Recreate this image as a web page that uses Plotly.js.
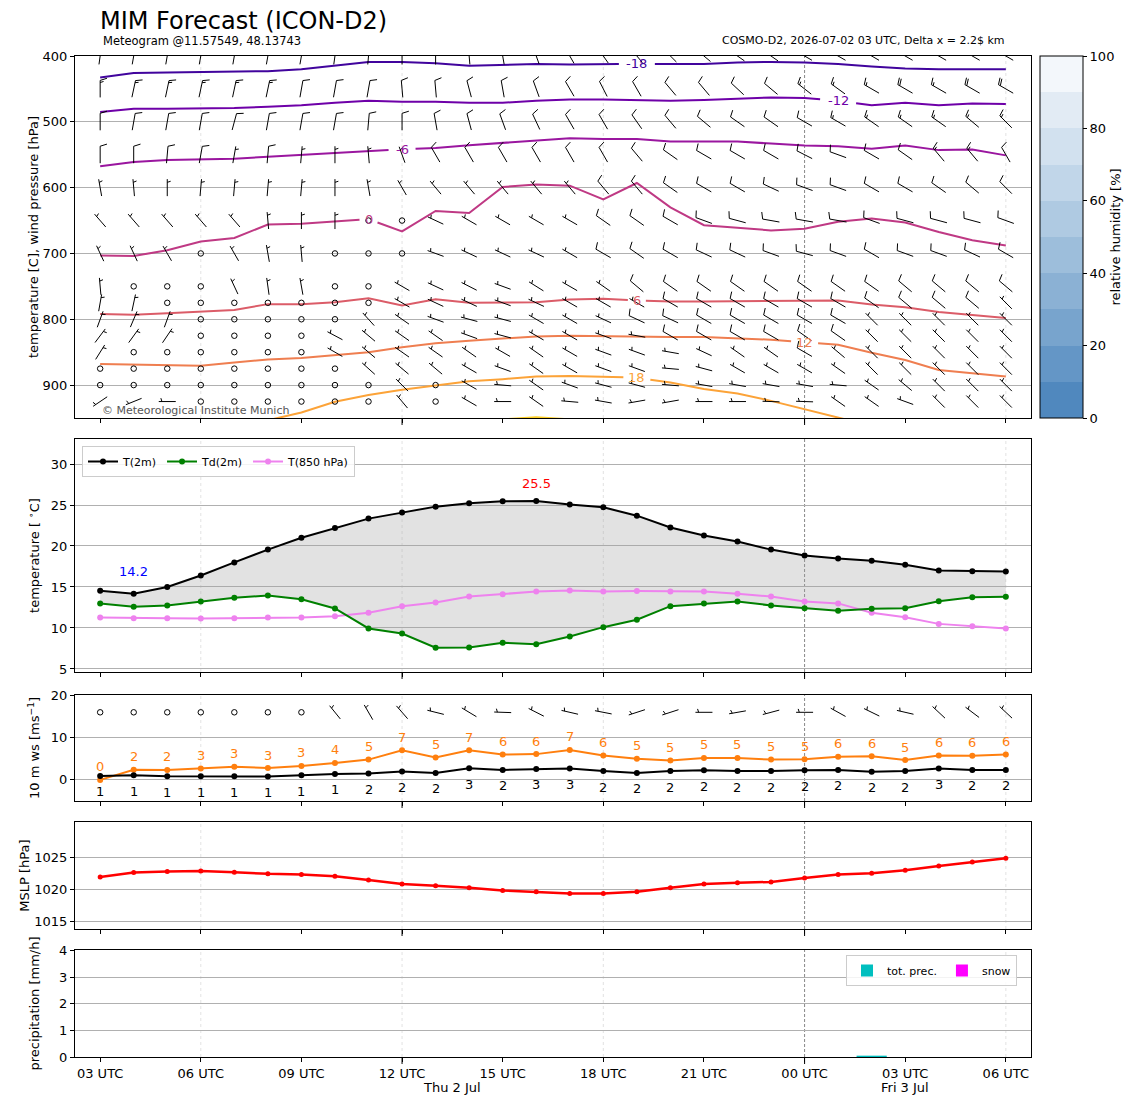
<!DOCTYPE html>
<html><head><meta charset="utf-8">
<script src="https://cdn.plot.ly/plotly-3.0.1.min.js"></script>
<style>html,body{margin:0;padding:0;background:#fff}</style>
</head><body><div id="chart" style="width:1148px;height:1105px"></div>
<script>
// ---------------- DATA ----------------
const hours = [0,1,2,3,4,5,6,7,8,9,10,11,12,13,14,15,16,17,18,19,20,21,22,23,24,25,26,27];
const tickHours = [0,3,6,9,12,15,18,21,24,27];
const tickText = ['03 UTC','06 UTC','09 UTC','12 UTC','15 UTC','18 UTC','21 UTC','00 UTC','03 UTC','06 UTC'];
const dateLabels = ['Thu 2 Jul','Fri 3 Jul'];
const dateHours = [10.5, 24];
const dottedGridHours = [3,9,15,27];
const dayBreakHours = [21];
const majorTickHours = [9,21];

const levels = [400,450,500,550,600,650,700,750,775,800,825,850,875,900,925];
const dir400 = [8,10,10,10,10,10,10,8,5,0,0,355,350,340,330,325,320,315,310,305,305,300,300,300,300,300,300,300];
const spd400 = [15,15,15,15,15,15,15,15,15,15,15,15,15,15,15,15,15,15,15,15,15,15,15,15,15,15,15,15];
const dir450 = [0,12,12,12,12,12,10,10,10,355,355,345,350,340,330,333,330,320,320,313,310,308,306,300,300,300,300,300];
const spd450 = [15,15,15,15,15,15,10,10,10,10,10,10,10,10,10,10,10,10,10,10,10,15,15,15,20,15,20,20];
const dir500 = [0,10,10,10,15,10,10,10,5,0,350,345,340,335,330,330,325,320,310,305,305,300,300,305,305,305,310,315];
const spd500 = [10,10,10,10,10,10,10,10,10,10,10,10,10,10,10,10,10,10,10,10,10,10,15,15,15,15,15,15];
const dir550 = [0,0,5,10,10,5,5,0,355,340,330,330,330,330,330,330,320,305,300,300,300,297,290,300,305,320,320,330];
const spd550 = [10,10,10,10,5,10,5,5,5,5,10,10,10,10,10,10,10,10,10,10,10,10,10,10,10,15,15,10];
const dir600 = [350,355,0,5,5,5,5,0,350,330,320,320,320,320,320,320,320,305,300,300,295,290,290,300,300,305,310,315];
const spd600 = [5,5,5,5,5,5,5,5,5,5,5,5,5,5,5,10,10,10,10,10,10,10,10,10,10,10,10,10];
const dir650 = [319,319,319,319,319,355,0,0,0,0,295,300,300,300,300,305,305,300,290,285,280,280,280,290,285,285,285,290];
const spd650 = [5,5,5,5,5,5,5,5,0,0,5,5,5,5,5,10,10,10,10,10,10,10,10,10,10,10,10,10];
const dir700 = [335,335,330,0,330,350,355,0,0,0,290,295,295,295,300,300,305,300,295,295,290,285,290,300,290,290,295,300];
const spd700 = [5,5,5,0,5,5,5,0,0,0,5,5,5,5,5,10,10,10,10,10,10,10,10,10,10,10,10,10];
const dir750 = [355,0,0,0,335,352,350,0,0,300,295,297,290,302,300,305,310,305,305,305,305,305,305,305,310,310,310,310];
const spd750 = [5,0,0,0,5,5,5,0,0,5,5,5,5,5,5,5,10,10,10,10,10,10,10,10,10,10,10,10];
const dir775 = [10,12,0,0,0,0,0,0,0,300,295,295,290,295,300,300,300,300,300,300,300,300,300,305,310,310,310,315];
const spd775 = [5,5,0,0,0,0,0,0,0,5,5,5,5,5,5,5,5,10,10,10,10,10,10,10,10,10,10,5];
const dir800 = [20,23,20,0,0,0,0,0,318,305,290,285,285,300,300,295,295,295,300,300,300,300,300,315,315,315,315,315];
const spd800 = [5,5,5,0,0,0,0,0,5,5,5,5,5,5,5,5,10,10,10,10,10,10,10,5,5,5,5,5];
const dir825 = [37,36,34,0,0,0,0,298,310,305,305,290,285,300,300,290,280,300,300,300,300,305,305,315,315,315,315,315];
const spd825 = [5,5,5,0,0,0,0,5,5,5,5,5,5,5,5,5,5,10,10,10,10,10,10,5,5,5,5,5];
const dir850 = [32,0,0,0,0,0,0,300,310,305,305,305,300,305,300,290,290,280,295,305,305,300,310,315,315,315,315,315];
const spd850 = [5,0,0,0,0,0,0,5,5,5,5,5,5,5,5,5,5,5,5,5,5,10,5,5,5,5,5,5];
const dir875 = [0,0,0,0,0,0,0,0,312,310,310,300,290,305,300,290,290,275,285,300,300,300,305,315,315,315,315,315];
const spd875 = [0,0,0,0,0,0,0,0,5,5,5,5,5,5,5,5,5,5,5,5,5,5,5,5,5,5,5,5];
const dir900 = [0,0,0,0,0,0,0,0,0,315,0,300,275,305,290,285,285,275,280,280,280,280,275,305,310,315,315,315];
const spd900 = [0,0,0,0,0,0,0,0,0,5,0,5,5,5,5,5,5,5,5,5,5,5,5,5,5,5,5,5];
const dir925 = [236,248,270,0,0,0,0,0,0,320,0,300,270,305,275,280,260,260,270,270,272,272,305,305,290,315,315,315];
const spd925 = [5,5,5,0,0,0,0,0,0,5,0,5,5,5,5,5,5,5,5,5,5,5,5,5,5,5,5,5];
const windDirs = [dir400,dir450,dir500,dir550,dir600,dir650,dir700,dir750,dir775,dir800,dir825,dir850,dir875,dir900,dir925];
const windSpds = [spd400,spd450,spd500,spd550,spd600,spd650,spd700,spd750,spd775,spd800,spd825,spd850,spd875,spd900,spd925];

// isotherm pressure [hPa] per hour
const isoM18 = [432.5,426,425,424,424,423,420,415,409,409,411,415,413,412,413,412,412,412,412,410,409,410,412,416,419,420,420,420];
const isoM12 = [485,480,480,480,479,477,475,471,468,469.5,469.5,471,471,468,466,466,467,468,467,465.5,463,464,468,475,471,475,472,473];
const isoM6  = [567.5,561,558,557,556,553,550,547,544,542,539.6,535.5,532,528,525,526,526,530,530,530,533,536,537,541,536,543,542,551];
const iso0   = [703,704,695,682,676.6,656,655,651,648,666.5,635.5,638.6,599,595.4,597,617.8,593,630,657,661,665,662.4,652,647,653,667.5,680,688];
const iso6   = [792,793,791,788,786,777,777,774,768,779,769.5,775,775,774,770,769,771.6,773,773,772.6,772,771.6,771.6,777.7,781.7,789,794,798];
const iso12  = [868,869,869.5,870.6,865.5,861,859,855,850,842.6,836.5,832.5,829,826,825,826,826,827,827,829,831,835,838.6,851,862,877,882,887];
const iso18  = [962,961,960,959,958,953.5,941.6,925.4,915,907,900,894,891,887,886,887,889,896,906,912.7,924,936.5,949,962,970,975,980,985];
const iso24  = [null,null,null,null,null,null,null,null,null,null,null,960,952,949,952,960,null,null,null,null,null,null,null,null,null,null,null,null];
const isoTemps = ['-18','-12','-6','0','6','12','18','24'];
const isoLabelHours = [16,22,9,8,16,21,16,null];

const rhTicks = [0,20,40,60,80,100];

const t2m  = [14.55,14.17,15.0,16.4,18.0,19.56,21.0,22.2,23.34,24.07,24.8,25.2,25.45,25.5,25.05,24.72,23.7,22.25,21.27,20.54,19.56,18.83,18.46,18.2,17.7,17.0,16.93,16.89];
const td2m = [12.99,12.6,12.75,13.23,13.7,13.96,13.5,12.38,9.94,9.33,7.6,7.63,8.2,8.03,8.97,10.1,11.0,12.66,12.99,13.23,12.75,12.42,12.1,12.34,12.4,13.27,13.76,13.8];
const t850 = [11.28,11.2,11.2,11.16,11.2,11.28,11.28,11.44,11.85,12.66,13.1,13.83,14.1,14.45,14.57,14.45,14.5,14.45,14.45,14.17,13.84,13.23,13.0,11.86,11.3,10.5,10.2,9.94];

const ws10   = [0.94,1.1,0.87,0.87,0.87,0.8,1.1,1.4,1.5,1.97,1.65,2.76,2.36,2.6,2.68,2.1,1.65,2.1,2.3,2.1,2.1,2.3,2.36,1.9,2.1,2.68,2.36,2.36];
const gust10 = [0,2.4,2.35,2.7,3.1,2.8,3.3,4.0,4.8,7.0,5.3,7.0,6.0,6.1,7.1,5.8,5.0,4.6,5.2,5.2,4.8,4.9,5.5,5.6,4.7,5.8,5.7,6.0];
const dir10  = [0,0,0,0,0,0,0,321,330,319,284,301,272,297,283,281,252,252,270,260,255,270,299,296,283,313,307,313];
const barb10Level = 16;
const msToKt = 1.944;

const mslp = [1021.93,1022.6,1022.76,1022.85,1022.66,1022.41,1022.32,1022.02,1021.44,1020.85,1020.56,1020.27,1019.83,1019.63,1019.39,1019.39,1019.63,1020.27,1020.85,1021.05,1021.15,1021.78,1022.32,1022.51,1022.95,1023.63,1024.22,1024.8];
const precTot = [0,0,0,0,0,0,0,0,0,0,0,0,0,0,0,0,0,0,0,0,0,0,0,0.05,0,0,0,0];
const precSnow = [0,0,0,0,0,0,0,0,0,0,0,0,0,0,0,0,0,0,0,0,0,0,0,0,0,0,0,0];

// ---------------- LAYOUT GEOMETRY ----------------
const W = 1148, H = 1105;
const M = {l:75, r:117, t:56, b:48};
const PW = W - M.l - M.r, PH = H - M.t - M.b;
const PX = px => (px - M.l) / PW;
const PY = py => 1 - (py - M.t) / PH;
const XR = [-0.75, 27.75];
const panels = [ {top:56,bot:418}, {top:439,bot:672}, {top:695,bot:801}, {top:822,bot:929}, {top:950,bot:1057} ];
const yRanges = [[950,400],[4.63,33.05],[-5,20.1],[1013.9,1030.4],[0,4.02]];
const FONT = 'DejaVu Sans, sans-serif';
const pxPerHour = PW / (XR[1]-XR[0]);
// signed px per data unit, positive when data increases upward on screen
function pxPerY(k){ const r=yRanges[k]; return (panels[k].bot-panels[k].top)/(r[1]-r[0]); }

const isoColors = ['#41049d','#6e00a8','#9a169f','#bf3984','#db5c68','#ef7e50','#fca338','#fcce25'];
const rhColors = ['#5088be','#6496c6','#78a4cd','#8bb1d4','#9dbedb','#afcae2','#c1d6e9','#d2e1ef','#e2ebf4','#f3f7fb'];

// ---------------- HELPERS ----------------
function barbTraces(xs, ys, dirs, kts, xa, ya, pxX, pxY){
  const L = 17, fh = 0.4*L, fw = 0.25*L, sp = 0.125*L;
  const lx=[], ly=[], cx=[], cy=[];
  for (let k=0;k<xs.length;k++){
    const mag = 5*Math.round(kts[k]/5);
    if (mag < 5){ cx.push(xs[k]); cy.push(ys[k]); continue; }
    const D = dirs[k]*Math.PI/180;
    const sx=Math.sin(D), sy=Math.cos(D), rx=Math.cos(D), ry=-Math.sin(D);
    const P=(a,b)=>{ const ex=(a-L/2)*sx+b*rx, ey=(a-L/2)*sy+b*ry; lx.push(xs[k]+ex/pxX); ly.push(ys[k]+ey/pxY); };
    const brk=()=>{ lx.push(null); ly.push(null); };
    P(0,0); P(L,0); brk();
    const nflag=Math.floor(mag/50); const rem=mag-50*nflag;
    const nfull=Math.floor(rem/10); const half=(rem-10*nfull)>=5;
    let off=L;
    for (let f=0;f<nflag;f++){ P(off,0); P(off-fw/2,fh); P(off-fw,0); brk(); off-=fw+sp; }
    for (let f=0;f<nfull;f++){ P(off,0); P(off+fw/2,fh); brk(); off-=sp; }
    if (half){ if (off===L) off-=1.5*sp; P(off,0); P(off+fw/4,fh/2); brk(); }
  }
  return [
    {type:'scatter',mode:'lines',x:lx,y:ly,xaxis:xa,yaxis:ya,line:{color:'black',width:1},hoverinfo:'skip',showlegend:false,connectgaps:false},
    {type:'scatter',mode:'markers',x:cx,y:cy,xaxis:xa,yaxis:ya,marker:{symbol:'circle-open',size:5.5,color:'black',line:{width:1,color:'black'}},hoverinfo:'skip',showlegend:false}
  ];
}

function isoTrace(vals, color, label, li){
  const x=[], y=[];
  if (li===null){
    for (let i=0;i<vals.length;i++){ x.push(hours[i]); y.push(vals[i]); }
  } else {
    const g = (4.5*label.length + 4.5)/pxPerHour;
    for (let i=0;i<li;i++){ x.push(hours[i]); y.push(vals[i]); }
    const a=vals[li-1], b=vals[li], c=vals[li+1];
    x.push(hours[li]-g); y.push(b+(a-b)*g);
    x.push(null); y.push(null);
    x.push(hours[li]+g); y.push(b+(c-b)*g);
    for (let i=li+1;i<vals.length;i++){ x.push(hours[i]); y.push(vals[i]); }
  }
  return {type:'scatter',mode:'lines',x,y,xaxis:'x',yaxis:'y',line:{color,width:2},hoverinfo:'skip',showlegend:false,connectgaps:false};
}

// ---------------- TRACES ----------------
const traces = [];
const annotations = [];

// Panel 1: isotherms
const isoSets = [isoM18,isoM12,isoM6,iso0,iso6,iso12,iso18,iso24];
isoSets.forEach((vals,j)=>{
  traces.push(isoTrace(vals, isoColors[j], isoTemps[j], isoLabelHours[j]));
  const li = isoLabelHours[j];
  if (li!==null){
    annotations.push({xref:'x',yref:'y',x:hours[li],y:vals[li],text:isoTemps[j],showarrow:false,
      font:{size:13,color:isoColors[j],family:FONT},xanchor:'center',yanchor:'middle'});
  }
});

// Panel 1: wind barbs
levels.forEach((p,li)=>{
  const ys = hours.map(()=>p);
  barbTraces(hours, ys, windDirs[li], windSpds[li], 'x','y', pxPerHour, pxPerY(0)).forEach(t=>traces.push(t));
});

// RH colorbar holder
const cs = [];
rhColors.forEach((c,i)=>{ cs.push([i/10,c]); cs.push([(i+1)/10,c]); });
traces.push({type:'scatter',mode:'markers',x:[-5,-5],y:[700,700],xaxis:'x',yaxis:'y',hoverinfo:'skip',showlegend:false,
  marker:{color:[0,100],cmin:0,cmax:100,colorscale:cs,showscale:true,size:1,
    colorbar:{x:PX(1040),xanchor:'left',y:PY(418),yanchor:'bottom',len:(418-56)/PH,lenmode:'fraction',
      thickness:43,thicknessmode:'pixels',xpad:0,ypad:0,outlinewidth:1,outlinecolor:'black',
      ticks:'outside',ticklen:4,tickcolor:'black',tickmode:'array',tickvals:rhTicks,tickfont:{size:13,family:FONT},
      title:{text:'relative humidity [%]',side:'right',font:{size:13,family:FONT}}}}});

// Panel 2: temperatures
traces.push({type:'scatter',mode:'lines',x:hours,y:t2m,xaxis:'x2',yaxis:'y2',line:{width:0,color:'rgba(0,0,0,0)'},showlegend:false,hoverinfo:'skip'});
traces.push({type:'scatter',mode:'lines',x:hours,y:td2m,xaxis:'x2',yaxis:'y2',line:{width:0,color:'rgba(0,0,0,0)'},fill:'tonexty',fillcolor:'rgba(160,160,160,0.3)',showlegend:false,hoverinfo:'skip'});
traces.push({type:'scatter',mode:'lines+markers',name:'T(850 hPa)',legendrank:3,x:hours,y:t850,xaxis:'x2',yaxis:'y2',line:{color:'#ee82ee',width:2},marker:{size:6,color:'#ee82ee'}});
traces.push({type:'scatter',mode:'lines+markers',name:'Td(2m)',legendrank:2,x:hours,y:td2m,xaxis:'x2',yaxis:'y2',line:{color:'#008000',width:2},marker:{size:6,color:'#008000'}});
traces.push({type:'scatter',mode:'lines+markers',name:'T(2m)',legendrank:1,x:hours,y:t2m,xaxis:'x2',yaxis:'y2',line:{color:'black',width:2},marker:{size:6,color:'black'}});
let iMin=0,iMax=0; t2m.forEach((v,i)=>{ if(v<t2m[iMin]) iMin=i; if(v>=t2m[iMax]) iMax=i; });
annotations.push({xref:'x2',yref:'y2',x:hours[iMin],y:t2m[iMin],yshift:22,text:t2m[iMin].toFixed(1),showarrow:false,font:{size:13,color:'#0000ff',family:FONT}});
annotations.push({xref:'x2',yref:'y2',x:hours[iMax],y:t2m[iMax],yshift:17,text:t2m[iMax].toFixed(1),showarrow:false,font:{size:13,color:'#ff0000',family:FONT}});

// Panel 3: 10 m wind
traces.push({type:'scatter',mode:'lines+markers',x:hours,y:gust10,xaxis:'x3',yaxis:'y3',line:{color:'#ff7f0e',width:2},marker:{size:6,color:'#ff7f0e'},showlegend:false,hoverinfo:'skip'});
traces.push({type:'scatter',mode:'lines+markers',x:hours,y:ws10,xaxis:'x3',yaxis:'y3',line:{color:'black',width:2},marker:{size:6,color:'black'},showlegend:false,hoverinfo:'skip'});
hours.forEach((h,i)=>{
  annotations.push({xref:'x3',yref:'y3',x:h,y:gust10[i],yshift:13,text:String(Math.round(gust10[i])),showarrow:false,font:{size:13,color:'#ff7f0e',family:FONT}});
  annotations.push({xref:'x3',yref:'y3',x:h,y:ws10[i],yshift:-16,text:String(Math.round(ws10[i])),showarrow:false,font:{size:13,color:'black',family:FONT}});
});
barbTraces(hours, hours.map(()=>barb10Level), dir10, ws10.map(v=>v*msToKt), 'x3','y3', pxPerHour, pxPerY(2)).forEach(t=>traces.push(t));

// Panel 4: MSLP
traces.push({type:'scatter',mode:'lines+markers',x:hours,y:mslp,xaxis:'x4',yaxis:'y4',line:{color:'#ff0000',width:2.5},marker:{size:5,color:'#ff0000'},showlegend:false,hoverinfo:'skip'});

// Panel 5: precipitation
traces.push({type:'bar',name:'tot. prec.',x:hours,y:precTot,xaxis:'x5',yaxis:'y5',width:0.9,marker:{color:'#00bfbf',line:{width:0}},legend:'legend2'});
traces.push({type:'bar',name:'snow',x:hours,y:precSnow,xaxis:'x5',yaxis:'y5',width:0.9,marker:{color:'#ff00ff',line:{width:0}},legend:'legend2'});

// ---------------- AXES ----------------
const yTitles = ['temperature [C], wind pressure [hPa]','temperature [ <sup>∘</sup>C]','10 m ws [ms<sup>−1</sup>]','MSLP [hPa]','precipitation [mm/h]'];
const yTicks = [[400,500,600,700,800,900],[5,10,15,20,25,30],[0,10,20],[1015,1020,1025],[0,1,2,3,4]];
const layout = {
  width:W,height:H,margin:M,paper_bgcolor:'white',plot_bgcolor:'white',
  font:{family:FONT,size:13,color:'black'},
  hovermode:false,barmode:'overlay',
  legend:{x:PX(82),y:PY(446),xanchor:'left',yanchor:'top',orientation:'h',bgcolor:'rgba(255,255,255,0.85)',
    bordercolor:'#cccccc',borderwidth:1,font:{size:11,family:FONT},traceorder:'normal',itemwidth:30,tracegroupgap:0},
  legend2:{x:PX(846),y:PY(955),xanchor:'left',yanchor:'top',orientation:'h',bgcolor:'rgba(255,255,255,0.85)',
    bordercolor:'#cccccc',borderwidth:1,font:{size:11,family:FONT},itemwidth:30},
  annotations:annotations,
  shapes:[]
};
for (let k=0;k<5;k++){
  const sx = k===0?'':String(k+1);
  layout['xaxis'+sx] = {domain:[0,1],anchor:'y'+sx,range:XR,tickmode:'array',tickvals:tickHours,ticktext:tickText,
    showticklabels:k===4,ticks:'outside',ticklen:4,tickcolor:'black',tickwidth:1,showline:true,linecolor:'black',linewidth:1,
    mirror:true,showgrid:false,zeroline:false,tickfont:{size:13,family:FONT}};
  if (k>0) layout['xaxis'+sx].matches='x';
  layout['yaxis'+sx] = {domain:[PY(panels[k].bot),PY(panels[k].top)],anchor:'x'+sx,range:yRanges[k],tickmode:'array',tickvals:yTicks[k],
    ticks:'outside',ticklen:4,tickcolor:'black',showline:true,linecolor:'black',linewidth:1,mirror:true,
    showgrid:true,gridcolor:'#b0b0b0',gridwidth:1,zeroline:false,tickfont:{size:13,family:FONT},
    title:{text:yTitles[k],font:{size:13,family:FONT}}};
  dottedGridHours.forEach(h=>layout.shapes.push({type:'line',xref:'x'+sx,yref:'y'+sx+' domain',x0:h,x1:h,y0:0,y1:1,layer:'below',
    line:{color:'#d6d6d6',width:0.7,dash:'dot'}}));
  dayBreakHours.forEach(h=>layout.shapes.push({type:'line',xref:'x'+sx,yref:'y'+sx+' domain',x0:h,x1:h,y0:0,y1:1,layer:'below',
    line:{color:'rgba(0,0,0,0.6)',width:0.8,dash:'3px,2px'}}));
  majorTickHours.forEach(h=>layout.shapes.push({type:'line',xref:'x'+sx,yref:'y'+sx+' domain',x0:h,x1:h,ysizemode:'pixel',yanchor:0,y0:0,y1:-7,
    line:{color:'black',width:1}}));
}

// header & footer texts
annotations.push({xref:'paper',yref:'paper',x:PX(98),y:PY(21),xanchor:'left',yanchor:'middle',text:'MIM Forecast (ICON-D2)',showarrow:false,font:{size:24,family:FONT}});
annotations.push({xref:'paper',yref:'paper',x:PX(101),y:PY(41),xanchor:'left',yanchor:'middle',text:'Meteogram @11.57549, 48.13743',showarrow:false,font:{size:11.5,family:FONT}});
annotations.push({xref:'paper',yref:'paper',x:PX(1007),y:PY(41),xanchor:'right',yanchor:'middle',text:'COSMO-D2, 2026-07-02 03 UTC, Delta x = 2.2$ km',showarrow:false,font:{size:11,family:FONT}});
annotations.push({xref:'paper',yref:'paper',x:PX(100),y:PY(410),xanchor:'left',yanchor:'middle',text:'© Meteorological Institute Munich',showarrow:false,font:{size:11,color:'#555555',family:FONT}});
dateLabels.forEach((t,i)=>annotations.push({xref:'x5',yref:'paper',x:dateHours[i],y:PY(1087),xanchor:'center',yanchor:'middle',text:t,showarrow:false,font:{size:13,family:FONT}}));

Plotly.newPlot('chart',traces,layout,{displayModeBar:false,staticPlot:true});
</script></body></html>
